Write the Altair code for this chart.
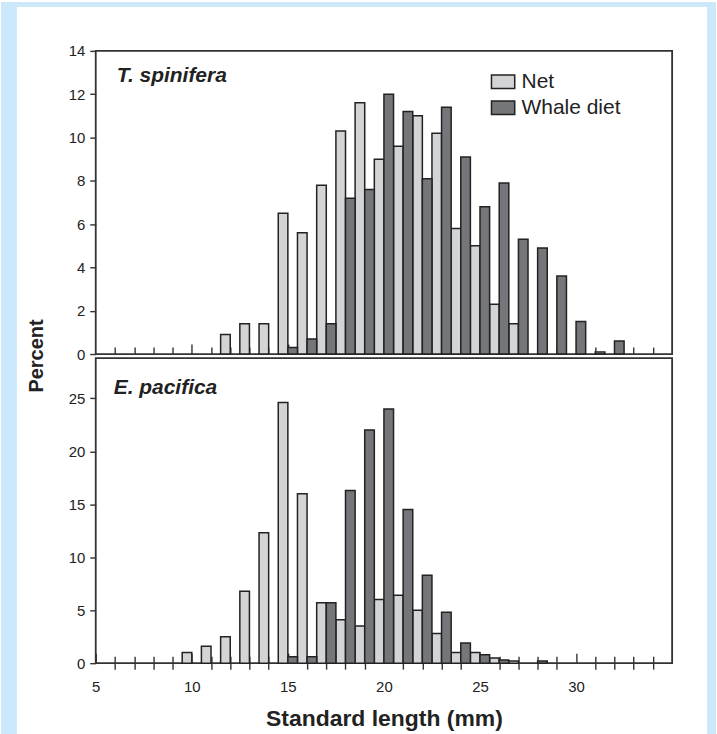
import altair as alt
import pandas as pd

# ---------------- data ----------------
series = ["Net", "Whale diet"]
series_fill = ["#d3d4d6", "#75767a"]
species = ["T. spinifera", "E. pacifica"]

# T. spinifera (top panel), percent per 1-mm length bin
bins_t = [12, 13, 14, 15, 16, 17, 18, 19, 20, 21, 22, 23, 24, 25, 26, 27, 28, 29, 30, 31, 32]
net_t = [0.9, 1.4, 1.4, 6.5, 5.6, 7.8, 10.3, 11.6, 9.0, 9.6, 11.0, 10.2, 5.8, 5.0, 2.3, 1.4, 0, 0, 0, 0, 0]
whale_t = [0, 0, 0, 0.3, 0.7, 1.4, 7.2, 7.6, 12.0, 11.2, 8.1, 11.4, 9.1, 6.8, 7.9, 5.3, 4.9, 3.6, 1.5, 0.1, 0.6]

# E. pacifica (bottom panel)
bins_e = [10, 11, 12, 13, 14, 15, 16, 17, 18, 19, 20, 21, 22, 23, 24, 25, 26, 27, 28]
net_e = [1.0, 1.6, 2.5, 6.8, 12.3, 24.6, 16.0, 5.7, 4.1, 3.5, 6.0, 6.4, 5.0, 2.8, 1.0, 1.0, 0.5, 0.2, 0]
whale_e = [0, 0, 0, 0, 0, 0.6, 0.6, 5.7, 16.3, 22.0, 24.0, 14.5, 8.3, 4.8, 1.9, 0.8, 0.3, 0, 0.2]

x_domain = [5, 35]
x_label_values = [5, 10, 15, 20, 25, 30]
major_tick_values = [10, 15, 20, 25, 30]
minor_tick_values = [6, 7, 8, 9, 11, 12, 13, 14, 16, 17, 18, 19, 21, 22, 23, 24,
                     26, 27, 28, 29, 31, 32, 33, 34]
y_ticks_t = [0, 2, 4, 6, 8, 10, 12, 14]
y_ticks_e = [0, 5, 10, 15, 20, 25]
y_domain_t = [0, 14]
y_domain_e = [0, 28.8]
x_title = "Standard length (mm)"
y_title = "Percent"

# ---------------- styling ----------------
FONT = "Liberation Sans"
INK = "#222222"
TICK = "#333333"
BLUE = "#cce9fb"
W = 578
H_T = 304
H_E = 306


def long_table(bins, net, whale):
    rows = []
    for b, n, w in zip(bins, net, whale):
        rows.append({"bin": b, "series": series[0], "value": n})
        rows.append({"bin": b, "series": series[1], "value": w})
    return pd.DataFrame(rows)


df_t = long_table(bins_t, net_t, whale_t)
df_e = long_table(bins_e, net_e, whale_e)

xscale = alt.Scale(domain=x_domain, nice=False, zero=False)
fill_scale = alt.Scale(domain=series, range=series_fill)


def y_axis(values):
    return alt.Axis(values=values, tickSize=6, labelPadding=5, domain=False, grid=False,
                    title=None, labelFontSize=15, labelFont=FONT, labelColor=INK,
                    tickColor=TICK, tickWidth=1.4)


def tick_axis(values, size, offset):
    return alt.Axis(values=values, orient="bottom", offset=offset, tickSize=size,
                    labels=False, domain=False, grid=False, title=None,
                    tickColor=TICK, tickWidth=1.4)


def bars(df, which, ydom, yvals, xaxis, legend):
    return alt.Chart(df).transform_filter(
        f"datum.series == '{which}' && datum.value > 0"
    ).transform_calculate(
        x0=f"datum.series == '{series[0]}' ? datum.bin - 0.5 : datum.bin",
        x1=f"datum.series == '{series[0]}' ? datum.bin : datum.bin + 0.5",
    ).mark_rect(stroke=INK, strokeWidth=1.5).encode(
        x=alt.X("x0:Q", scale=xscale, axis=xaxis),
        x2="x1:Q",
        y=alt.Y("value:Q", scale=alt.Scale(domain=ydom, nice=False, zero=True), axis=y_axis(yvals)),
        y2=alt.datum(0),
        fill=alt.Fill("series:N", scale=fill_scale, legend=legend),
    )


def band(x, x2, y, y2):
    return alt.Chart(pd.DataFrame({"k": [0]})).mark_rect(fill=BLUE, strokeWidth=0).encode(
        x=alt.value(x), x2=alt.value(x2), y=alt.value(y), y2=alt.value(y2)
    )


def panel_label(name, x, y):
    return alt.Chart(pd.DataFrame({"name": [name]})).mark_text(
        font=FONT, fontSize=21, fontStyle="italic", fontWeight="bold",
        align="left", baseline="alphabetic", color=INK
    ).encode(text="name:N", x=alt.value(x), y=alt.value(y))


legend = alt.Legend(
    orient="none", legendX=396, legendY=18.5, title=None, padding=0,
    symbolType="M-1,-0.575H1V0.575H-1Z", symbolSize=543,
    symbolStrokeColor=INK, symbolStrokeWidth=1.5,
    labelFont=FONT, labelFontSize=21, labelColor=INK, labelOffset=6, rowPadding=3,
)

percent = alt.Chart(pd.DataFrame({"t": [y_title]})).mark_text(
    angle=270, font=FONT, fontSize=20, fontWeight="bold", color=INK,
    align="center", baseline="middle"
).encode(text="t:N", x=alt.value(-59), y=alt.value(306))

top = alt.layer(
    band(-95, -79, -49, 685),
    band(-95, 622, -49, -44),
    band(613, 622, -49, 685),
    bars(df_t, series[0], y_domain_t, y_ticks_t, tick_axis(minor_tick_values, 7, -7), legend),
    bars(df_t, series[1], y_domain_t, y_ticks_t, tick_axis(major_tick_values, 10, -10), legend),
    panel_label(species[0], 21, 31),
    percent,
).resolve_axis(x="independent").properties(width=W, height=H_T)

major_bottom = alt.Axis(
    values=x_label_values, orient="bottom", offset=-10, tickSize=10, labels=True,
    labelPadding=16, labelFontSize=15, labelFont=FONT, labelColor=INK, labelFlush=False,
    labelOverlap=False, domain=False, grid=False, tickColor=TICK, tickWidth=1.4,
    title=x_title, titleFont=FONT, titleFontSize=23, titleFontWeight="bold",
    titleColor=INK, titleY=54, titleBaseline="top",
)

bottom = alt.layer(
    bars(df_e, series[0], y_domain_e, y_ticks_e, tick_axis(minor_tick_values, 13, -7), None),
    bars(df_e, series[1], y_domain_e, y_ticks_e, major_bottom, None),
    panel_label(species[1], 18, 36),
).resolve_axis(x="independent").properties(width=W, height=H_E)

chart = alt.vconcat(top, bottom, spacing=4, bounds="flush").resolve_scale(
    y="independent", fill="independent"
).resolve_legend(fill="independent").properties(
    background="white", padding=0, autosize=alt.AutoSizeParams(type="pad")
).configure(font=FONT).configure_view(stroke=TICK, strokeWidth=1.8)

chart.save("out.html", embed_options={"renderer": "svg", "actions": False})
